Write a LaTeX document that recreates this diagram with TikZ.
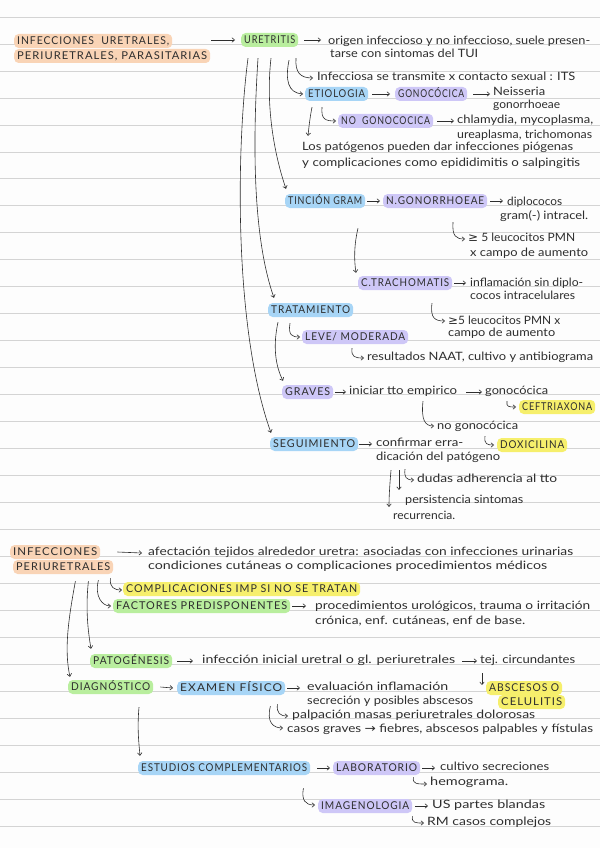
\documentclass[tikz,border=0pt]{standalone}
\usepackage{fontspec}
\usepackage{graphicx}
\setmainfont{Lato}
\newfontfamily\capsf{Lato}[LetterSpace=9]
\newfontfamily\symf{DejaVu Sans}
\usetikzlibrary{arrows.meta}
\definecolor{ink}{HTML}{2E2E2E}
\definecolor{rulec}{HTML}{D4D4D4}
\definecolor{paper}{HTML}{FDFDFD}
\definecolor{hpeach}{HTML}{F9D4B6}
\definecolor{hgreen}{HTML}{B9EE9E}
\definecolor{hblue}{HTML}{A7D5F6}
\definecolor{hpurple}{HTML}{CEC7F7}
\definecolor{hyellow}{HTML}{F6EF6C}
\newsavebox\fwbox
\newcommand\fw[2]{\sbox\fwbox{#2}\pgfmathsetmacro\fwfac{#1/\the\wd\fwbox}\scalebox{\fwfac}[1]{\usebox\fwbox}}
\begin{document}
\begin{tikzpicture}[x=1pt,y=-1pt,
 tx/.style={anchor=west,inner sep=0pt,text height=5.8pt,text depth=0pt,font=\fontsize{11.5}{13}\selectfont,text=ink},
 hl/.style={anchor=west,fill=#1,rounded corners=4.5pt,inner xsep=3pt,inner ysep=3.1pt,text height=7.8pt,text depth=0pt,font=\capsf\fontsize{10.8}{12}\selectfont,text=ink},
 arr/.style={draw=ink,line width=0.6pt,-{Straight Barb[length=2.6pt,width=4.5pt]}},
 ruled/.style={draw=rulec,line width=0.9pt}]
\useasboundingbox (0,0) rectangle (600,848);
\fill[paper] (0,0) rectangle (600,848);
\foreach \k in {0,...,30} \draw[ruled] (0,{17+26.99*\k}) -- (600,{17+26.99*\k});

% ---------- section 1 ----------
\node[hl=hpeach] (t0a) at (14,41) {\fw{152}{INFECCIONES\ \ URETRALES,}};
\node[hl=hpeach] (t0b) at (14,56) {\fw{190}{PERIURETRALES, PARASITARIAS}};
\node[hl=hgreen] (uret) at (241,40) {\fw{51}{URETRITIS}};
\node[tx] (o1a) at (328,42) {\fw{262}{origen infeccioso y no infeccioso, suele presen-}};
\node[tx] (o1b) at (330,55) {\fw{148}{tarse con sintomas del TUI}};
\node[tx] (inf) at (317,78) {\fw{258}{Infecciosa se transmite x contacto sexual : ITS}};
\node[hl=hblue] (etio) at (305,94) {\fw{57}{ETIOLOGIA}};
\node[hl=hpurple] (gono) at (395,94) {\fw{66}{GONOCÓCICA}};
\node[tx] (neisa) at (493,93) {\fw{52}{Neisseria}};
\node[tx] (neisb) at (493,106) {\fw{67}{gonorrhoeae}};
\node[hl=hpurple] (nogono) at (338,121) {\fw{89}{NO\ \ GONOCOCICA}};
\node[tx] (chlaa) at (457,121) {\fw{136}{chlamydia, mycoplasma,}};
\node[tx] (chlab) at (457,136) {\fw{135}{ureaplasma, trichomonas}};
\node[tx] (pata) at (302,148) {\fw{271}{Los patógenos pueden dar infecciones piógenas}};
\node[tx] (patb) at (302,164) {\fw{278}{y complicaciones como epididimitis o salpingitis}};
\node[hl=hblue] (gram) at (285,201) {\fw{74}{TINCIÓN GRAM}};
\node[hl=hpurple] (ngon) at (383,201) {\fw{98}{N.GONORRHOEAE}};
\node[tx] (dipa) at (507,203) {\fw{55}{diplococos}};
\node[tx] (dipb) at (500,217) {\fw{88}{gram(-) intracel.}};
\node[tx] (leua) at (468,239) {\fw{107}{{\symf ≥} 5 leucocitos PMN}};
\node[tx] (leub) at (470,254) {\fw{118}{x campo de aumento}};
\node[hl=hpurple] (trach) at (358,283) {\fw{88}{C.TRACHOMATIS}};
\node[tx] (infla) at (470,284) {\fw{113}{inflamación sin diplo-}};
\node[tx] (inflb) at (470,297) {\fw{105}{cocos intracelulares}};
\node[tx] (leuc) at (448,322) {\fw{112}{{\symf ≥}5 leucocitos PMN x}};
\node[tx] (leud) at (448,334) {\fw{107}{campo de aumento}};
\node[hl=hblue] (trat) at (268,310) {\fw{79}{TRATAMIENTO}};
\node[hl=hpurple] (leve) at (302,337) {\fw{100}{LEVE/ MODERADA}};
\node[tx] (res) at (367,358) {\fw{226}{resultados NAAT, cultivo y antibiograma}};
\node[hl=hpurple] (grav) at (282,392) {\fw{45}{GRAVES}};
\node[tx] (ini) at (349,392) {\fw{108}{iniciar tto empirico}};
\node[tx] (gon2) at (485,392) {\fw{63}{gonocócica}};
\node[hl=hyellow] (ceft) at (519,407) {\fw{70}{CEFTRIAXONA}};
\node[tx] (nog2) at (437,427) {\fw{81}{no gonocócica}};
\node[hl=hyellow] (doxi) at (497,445) {\fw{64}{DOXICILINA}};
\node[hl=hblue] (seg) at (270,444) {\fw{82}{SEGUIMIENTO}};
\node[tx] (confa) at (376,444) {\fw{87}{confirmar erra-}};
\node[tx] (confb) at (376,458) {\fw{124}{dicación del patógeno}};
\node[tx] (dud) at (417,480) {\fw{140}{dudas adherencia al tto}};
\node[tx] (pers) at (405,501) {\fw{118}{persistencia sintomas}};
\node[tx] (rec) at (393,517) {\fw{62}{recurrencia.}};

% straight arrows section 1
\draw[arr] ([xshift=1pt]t0b.east |- uret.west) -- ([xshift=-6pt]uret.west);
\draw[arr] ([xshift=6pt]uret.east) -- ([xshift=-7pt]uret.east -| o1a.west);
\draw[arr] ([xshift=4pt]etio.east) -- ([xshift=-5pt]gono.west);
\draw[arr] ([xshift=6pt]gono.east) -- ([xshift=-3pt]gono.east -| neisa.west);
\draw[arr] ([xshift=4pt]nogono.east) -- ([xshift=-3pt]chlaa.west);
\draw[arr] ([xshift=2pt]gram.east) -- ([xshift=-3pt]ngon.west);
\draw[arr] ([xshift=3pt]ngon.east) -- ([xshift=-4pt]ngon.east -| dipa.west);
\draw[arr] ([xshift=2pt]trach.east) -- ([xshift=-4pt]trach.east -| infla.west);
\draw[arr] ([xshift=2pt]grav.east) -- ([xshift=-3pt]ini.west);
\draw[arr] ([xshift=9pt]ini.east) -- ([xshift=-3pt]gon2.west);
\draw[arr] ([xshift=1pt]seg.east) -- ([xshift=-4pt]seg.east -| confa.west);

% curved connectors section 1
\draw[arr] ([shift={(7,11)}]uret.south west) .. controls +(-12,92) and +(-37,-103) .. ([shift={(1,-4)}]seg.north west);
\draw[arr] ([shift={(17,11)}]uret.south west) .. controls +(-4,62) and +(-24,-68) .. ([shift={(6,-5)}]trat.north west);
\draw[arr] ([shift={(30,11)}]uret.south west) .. controls +(-6,52) and +(-10,-29) .. ([shift={(1,-5)}]gram.north west);
\draw[arr] ([shift={(48,13)}]uret.south west) .. controls +(-4,20) and +(-15,-1) .. ([xshift=-2pt]etio.west);
\draw[arr] ([shift={(55,11)}]uret.south west) .. controls +(-1,14) and +(-13,0) .. ([xshift=-4pt]inf.west);
\draw[arr] ([shift={(17,6)}]etio.south west) .. controls +(-1,12) and +(-11,0) .. ([xshift=-2pt]nogono.west);
\draw[arr] ([shift={(7,6)}]etio.south west) .. controls +(-2,10) and +(1,-10) .. ([shift={(6,-9)}]pata.north west);
\draw[arr] ([shift={(70,14)}]ngon.south west) .. controls +(-1,14) and +(-9,0) .. ([xshift=-3pt]leua.west);
\draw[arr] ([shift={(73,20)}]gram.south west) .. controls +(-4,17) and +(-2,-13) .. ([shift={(-2,-3)}]trach.north west);
\draw[arr] ([shift={(74,13)}]trach.south west) .. controls +(-2,15) and +(-10,0) .. ([shift={(-3,-1)}]leuc.west);
\draw[arr] ([shift={(22,6)}]trat.south west) .. controls +(-2,12) and +(-8,0) .. ([xshift=-2pt]leve.west);
\draw[arr] ([shift={(50,4)}]leve.south west) .. controls +(-1,9) and +(-9,0) .. ([xshift=-3pt]res.west);
\draw[arr] ([shift={(10,5)}]trat.south west) .. controls +(-5,23) and +(-8,-16) .. ([shift={(1,-4)}]grav.north west);
\draw[arr] ([shift={(22,6)}]gon2.south west) .. controls +(-1,6) and +(-7,0) .. ([xshift=-3pt]ceft.west);
\draw[arr] ([shift={(74,6)}]ini.south west) .. controls +(-2,19) and +(-9,0) .. ([shift={(-3,-1)}]nog2.west);
\draw[arr] ([shift={(48,6)}]nog2.south west) .. controls +(-1,8) and +(-7,0) .. ([xshift=-3pt]doxi.west);
\draw[arr] ([shift={(15,9)}]confb.south west) .. controls +(-1,12) and +(0,-12) .. ([shift={(-4,-7)}]rec.north west);
\draw[arr] ([shift={(23,9)}]confb.south west) -- ([shift={(-6,-8)}]pers.north west);
\draw[arr] ([shift={(29,8)}]confb.south west) .. controls +(-1,8) and +(-8,0) .. ([xshift=-3pt]dud.west);

% ---------- section 2 ----------
\node[hl=hpeach] (ipa) at (10,552) {\fw{84}{INFECCIONES}};
\node[hl=hpeach] (ipb) at (13,567) {\fw{94}{PERIURETRALES}};
\node[tx] (afa) at (148,553) {\fw{425}{afectación tejidos alrededor uretra: asociadas con infecciones urinarias}};
\node[tx] (afb) at (148,567) {\fw{399}{condiciones cutáneas o complicaciones procedimientos médicos}};
\node[hl=hyellow] (comp) at (123,589) {\fw{231}{COMPLICACIONES IMP SI NO SE TRATAN}};
\node[hl=hgreen] (fact) at (113,606) {\fw{171}{FACTORES PREDISPONENTES}};
\node[tx] (proca) at (315,607) {\fw{275}{procedimientos urológicos, trauma o irritación}};
\node[tx] (procb) at (315,622) {\fw{210}{crónica, enf. cutáneas, enf de base.}};
\node[hl=hgreen] (patog) at (90,661) {\fw{76}{PATOGÉNESIS}};
\node[tx] (pg) at (202,661) {\fw{253}{infección inicial uretral o gl. periuretrales}};
\node[tx] (tej) at (480,661) {\fw{95}{tej. circundantes}};
\node[hl=hyellow] (absa) at (486,688) {\fw{70}{ABSCESOS O}};
\node[hl=hyellow] (absb) at (498,702) {\fw{61}{CELULITIS}};
\node[hl=hgreen] (diag) at (68,687) {\fw{79}{DIAGNÓSTICO}};
\node[hl=hblue] (exam) at (177,688) {\fw{102}{EXAMEN FÍSICO}};
\node[tx] (evala) at (307,688) {\fw{141}{evaluación inflamación}};
\node[tx] (evalb) at (307,702) {\fw{166}{secreción y posibles abscesos}};
\node[tx] (palp) at (292,716) {\fw{243}{palpación masas periuretrales dolorosas}};
\node[tx] (casos) at (287,730) {\fw{306}{casos graves {\symf →} fiebres, abscesos palpables y fístulas}};
\node[hl=hblue] (estud) at (138,768) {\fw{166}{ESTUDIOS COMPLEMENTARIOS}};
\node[hl=hpurple] (lab) at (333,768) {\fw{81}{LABORATORIO}};
\node[tx] (cult) at (440,768) {\fw{109}{cultivo secreciones}};
\node[tx] (hemo) at (430,783) {\fw{78}{hemograma.}};
\node[hl=hpurple] (imag) at (318,806) {\fw{88}{IMAGENOLOGIA}};
\node[tx] (us) at (432,806) {\fw{113}{US partes blandas}};
\node[tx] (rm) at (427,823) {\fw{124}{RM casos complejos}};

% straight arrows section 2
\draw[arr] ([xshift=4pt]ipb.east |- ipa.east) -- ([xshift=-6pt]afa.west);
\draw[arr] ([xshift=2pt]fact.east) -- ([xshift=-9pt]fact.east -| proca.west);
\draw[arr] ([xshift=5pt]patog.east) -- ([xshift=-9pt]pg.west);
\draw[arr] ([xshift=7pt]pg.east) -- ([xshift=-3pt]tej.west);
\draw[arr] ([xshift=7pt]diag.east) -- ([xshift=-4pt]exam.west);
\draw[arr] ([xshift=2pt]exam.east) -- ([xshift=-7pt]evala.west);
\draw[arr] ([xshift=7pt]estud.east) -- ([xshift=-3pt]lab.west);
\draw[arr] ([xshift=2pt]lab.east) -- ([xshift=-5pt]cult.west);
\draw[arr] ([xshift=3pt]imag.east) -- ([xshift=-4pt]us.west);
\draw[arr] ([shift={(2,9)}]tej.south west) -- ([shift={(-4,-3)}]absa.west);

% curved connectors section 2
\draw[arr] ([shift={(-3,4)}]ipb.south east) .. controls +(-1,9) and +(-8,0) .. ([shift={(-1,1)}]comp.west);
\draw[arr] ([shift={(-15,6)}]ipb.south east) .. controls +(-4,16) and +(-9,0) .. ([xshift=-2pt]fact.west);
\draw[arr] ([shift={(-25,7)}]ipb.south east) .. controls +(-3,28) and +(-3,-18) .. ([shift={(1,-5)}]patog.north west);
\draw[arr] ([shift={(-38,7)}]ipb.south east) .. controls +(-7,38) and +(-6,-27) .. ([shift={(2,-3)}]diag.north west);
\draw[arr] ([shift={(-8,9)}]exam.south east) .. controls +(-1,9) and +(-8,0) .. ([xshift=-4pt]palp.west);
\draw[arr] ([shift={(-15,11)}]exam.south east) .. controls +(-4,16) and +(-10,0) .. ([shift={(-4,-2)}]casos.west);
\draw[arr] ([shift={(71,13)}]diag.south west) .. controls +(-2,22) and +(-1,-12) .. ([shift={(2,-5)}]estud.north west);
\draw[arr] ([shift={(-7,2)}]lab.south east) .. controls +(-1,7) and +(-10,0) .. ([shift={(-3,1)}]hemo.west);
\draw[arr] ([shift={(-7,13)}]estud.south east) .. controls +(-2,12) and +(-10,0) .. ([shift={(-3,-1)}]imag.west);
\draw[arr] ([shift={(0,3)}]imag.south east) .. controls +(-1,7) and +(-8,0) .. ([xshift=-3pt]rm.west);
\end{tikzpicture}
\end{document}
